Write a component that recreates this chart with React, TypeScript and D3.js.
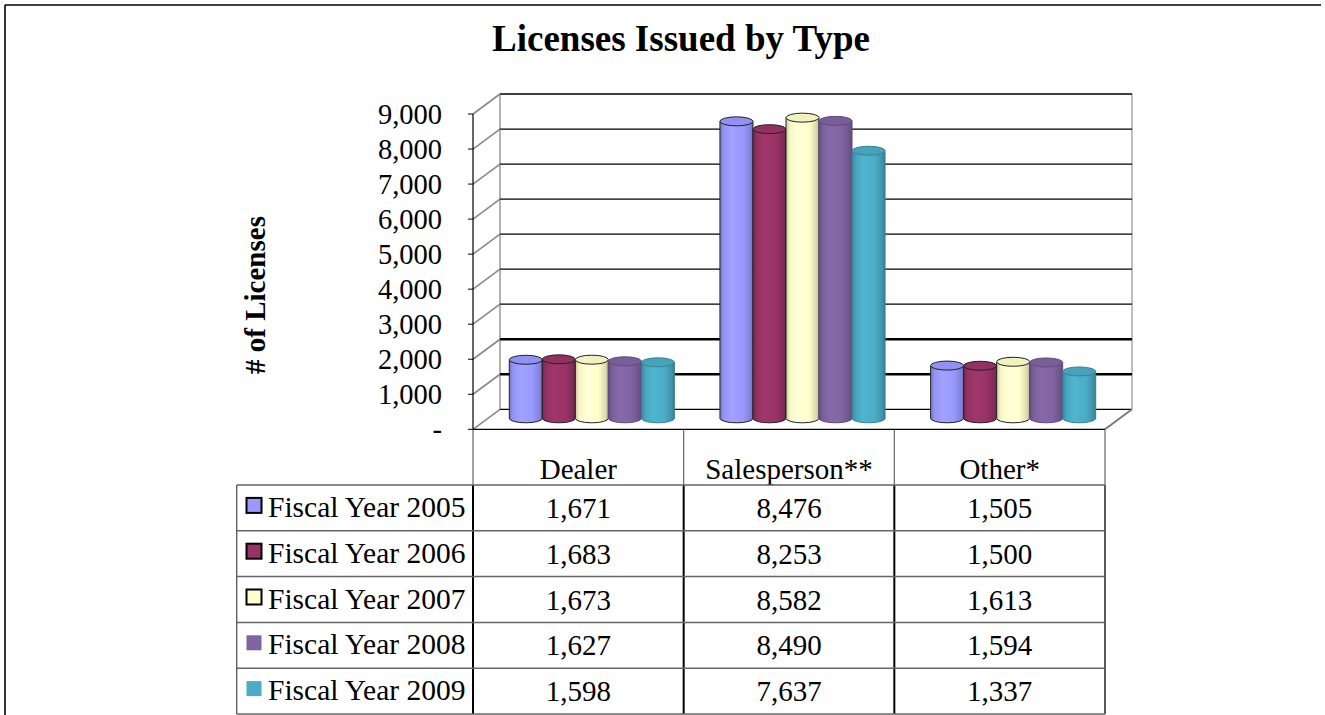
import React from "react";
import * as d3 from "d3";

const categories = ["Dealer", "Salesperson**", "Other*"];
const seriesNames = ["Fiscal Year 2005", "Fiscal Year 2006", "Fiscal Year 2007", "Fiscal Year 2008", "Fiscal Year 2009"];
const values2005 = [1671, 8476, 1505];
const values2006 = [1683, 8253, 1500];
const values2007 = [1673, 8582, 1613];
const values2008 = [1627, 8490, 1594];
const values2009 = [1598, 7637, 1337];
const seriesValues = [values2005, values2006, values2007, values2008, values2009];
const seriesColors = ["#9999FF", "#993366", "#FFFFCC", "#8064A2", "#4BACC6"];
const seriesOutlined = [true, true, true, false, false];
const yTicks = [0, 1000, 2000, 3000, 4000, 5000, 6000, 7000, 8000, 9000];
const title = "Licenses Issued by Type";
const yTitle = "# of Licenses";

const FONT = "'Liberation Serif', 'Times New Roman', serif";

export default function App() {
  const W = 1325, H = 715;
  const x0 = 473, x1 = 1105;
  const dx = 27, dy = -20;
  const y = d3.scaleLinear().domain([0, 9000]).range([429.3, 114]);
  const xCat = d3.scaleBand<string>().domain(categories).range([x0, x1]).paddingInner(0).paddingOuter(0);
  const xSer = d3.scaleBand<string>().domain(seriesNames).range([0, xCat.bandwidth()]).paddingOuter(0.69).paddingInner(0);
  const fmt = d3.format(",");
  const ry = 4.5;

  const tableTop = 430;
  const headerBottom = 485;
  const rowH = (714 - headerBottom) / seriesNames.length;
  const legendLeft = 236.7;

  return (
    <svg width={W} height={H} style={{ position: "absolute", left: 0, top: 0, background: "#fff" }} fontFamily={FONT}>
      <defs>
        {seriesColors.map((c, i) => {
          const base = d3.color(c)!;
          return (
            <linearGradient key={i} id={`g${i}`} x1="0" x2="1" y1="0" y2="0">
              <stop offset="0" stopColor={base.darker(0.7).formatHex()} />
              <stop offset="0.12" stopColor={base.darker(0.1).formatHex()} />
              <stop offset="0.35" stopColor={base.brighter(0.15).formatHex()} />
              <stop offset="0.7" stopColor={base.formatHex()} />
              <stop offset="0.92" stopColor={base.darker(0.45).formatHex()} />
              <stop offset="1" stopColor={base.darker(0.9).formatHex()} />
            </linearGradient>
          );
        })}
      </defs>
      {/* outer border */}
      <line x1={5} y1={5} x2={1321} y2={5} stroke="#000" strokeWidth={1.6} />
      <line x1={5} y1={5} x2={5} y2={715} stroke="#000" strokeWidth={1.6} />

      <text x={681} y={51} textAnchor="middle" fontWeight="bold" fontSize={37}>{title}</text>

      {/* walls */}
      <line x1={x0 + dx} y1={y(9000) + dy} x2={x0 + dx} y2={y(0) + dy} stroke="#999" strokeWidth={1.5} />
      <line x1={x1 + dx} y1={y(9000) + dy} x2={x1 + dx} y2={y(0) + dy} stroke="#aaa" strokeWidth={1.5} />
      {yTicks.map((t) => (
        <g key={t}>
          <line x1={x0 + dx} x2={x1 + dx} y1={y(t) + dy} y2={y(t) + dy} stroke="#000" strokeWidth={t === 1000 || t === 2000 ? 2.4 : 1.3} />
          <line x1={x0} y1={y(t)} x2={x0 + dx} y2={y(t) + dy} stroke="#888" strokeWidth={1.6} />
          <line x1={x0 - 5} x2={x0} y1={y(t)} y2={y(t)} stroke="#000" strokeWidth={1} />
          <text x={442} y={y(t)} dy="0.35em" textAnchor="end" fontSize={28.5}>{t === 0 ? "-" : fmt(t)}</text>
        </g>
      ))}
      <line x1={x0} y1={y(9000)} x2={x0} y2={y(0)} stroke="#000" strokeWidth={1.2} />
      <line x1={x1} y1={y(0)} x2={x1 + dx} y2={y(0) + dy} stroke="#777" strokeWidth={1.8} />
      <line x1={x0} y1={y(0)} x2={x1} y2={y(0)} stroke="#000" strokeWidth={1.2} />

      <text transform={`translate(265,295) rotate(-90)`} textAnchor="middle" fontWeight="bold" fontSize={29}>{yTitle}</text>

      {/* cylinders */}
      {categories.map((cat, ci) =>
        seriesNames.map((s, si) => {
          const v = seriesValues[si][ci];
          const bx = (xCat(cat) ?? 0) + (xSer(s) ?? 0) + dx / 2;
          const bw = xSer.bandwidth();
          const yb = y(0) + dy / 2 - 1;
          const yt = y(v) + dy / 2 - 1;
          const base = d3.color(seriesColors[si])!;
          const edge = seriesOutlined[si] ? "#222" : base.darker(0.8).formatHex();
          return (
            <g key={`${ci}-${si}`}>
              <ellipse cx={bx + bw / 2} cy={yb} rx={bw / 2} ry={ry} fill={`url(#g${si})`} stroke={edge} strokeWidth={1} />
              <rect x={bx} y={yt} width={bw} height={yb - yt} fill={`url(#g${si})`} />
              <line x1={bx} x2={bx} y1={yt} y2={yb} stroke={edge} strokeWidth={1} />
              <line x1={bx + bw} x2={bx + bw} y1={yt} y2={yb} stroke={edge} strokeWidth={1} />
              <ellipse cx={bx + bw / 2} cy={yt} rx={bw / 2} ry={ry} fill={base.darker(0.15).formatHex()} stroke={edge} strokeWidth={1} />
            </g>
          );
        })
      )}

      {/* data table */}
      {categories.map((cat) => (
        <text key={cat} x={(xCat(cat) ?? 0) + xCat.bandwidth() / 2} y={479} textAnchor="middle" fontSize={29}>{cat}</text>
      ))}
      {[x0, x0 + xCat.bandwidth(), x0 + 2 * xCat.bandwidth(), x1].map((xx, i) => (
        <g key={i}>
          <line x1={xx} x2={xx} y1={tableTop} y2={headerBottom} stroke="#666" strokeWidth={1.2} />
          <line x1={xx} x2={xx} y1={headerBottom} y2={714} stroke="#000" strokeWidth={i === 3 ? 1.3 : 2} />
        </g>
      ))}
      <line x1={legendLeft} x2={legendLeft} y1={headerBottom} y2={714} stroke="#555" strokeWidth={1.3} />
      {d3.range(seriesNames.length + 1).map((r) => (
        <line key={r} x1={legendLeft} x2={x1} y1={headerBottom + r * rowH} y2={headerBottom + r * rowH} stroke="#666" strokeWidth={1.5} />
      ))}
      {seriesNames.map((s, si) => {
        const rc = headerBottom + si * rowH + rowH / 2;
        return (
          <g key={s}>
            <rect x={246.5} y={rc - 10} width={15} height={15} fill={seriesColors[si]} stroke={seriesOutlined[si] ? "#000" : "none"} strokeWidth={2} />
            <text x={268} y={rc + 9} fontSize={29.5}>{s}</text>
            {categories.map((cat, ci) => (
              <text key={cat} x={(xCat(cat) ?? 0) + xCat.bandwidth() / 2} y={rc + 10} textAnchor="middle" fontSize={29}>{fmt(seriesValues[si][ci])}</text>
            ))}
          </g>
        );
      })}
    </svg>
  );
}
